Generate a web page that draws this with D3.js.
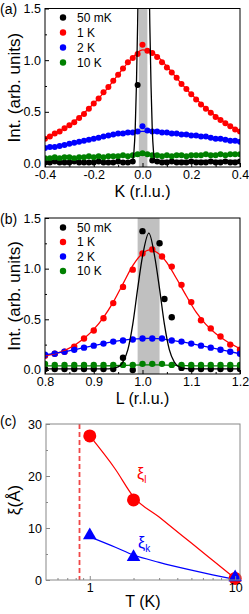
<!DOCTYPE html>
<html>
<head>
<meta charset="utf-8">
<script src="https://cdn.jsdelivr.net/npm/d3@7"></script>
<style>
  body { margin: 0; background: #fff; }
  svg { display: block; font-family: "Liberation Sans", Arial, sans-serif; }
</style>
</head>
<body>
<div id="chart"></div>
<script>
// ---- data ----
const seriesNames = ['50 mK', '1 K', '2 K', '10 K'];
const seriesColors = ['#000000', '#ff0000', '#0000ff', '#008000'];

// (a) K scans
const kGrid = [-0.40, -0.38, -0.36, -0.34, -0.32, -0.30, -0.28, -0.26, -0.24, -0.22, -0.20,
  -0.18, -0.16, -0.14, -0.12, -0.10, -0.08, -0.06, -0.04, -0.02, 0.00,
  0.02, 0.04, 0.06, 0.08, 0.10, 0.12, 0.14, 0.16, 0.18, 0.20,
  0.22, 0.24, 0.26, 0.28, 0.30, 0.32, 0.34, 0.36, 0.38, 0.40];
const kBlack = [0.01, 0.01, 0.02, 0.01, 0.01, 0.01, 0.02, 0.01, 0.01, 0.01, 0.01,
  0.02, 0.01, 0.01, 0.01, 0.02, 0.01, 0.01, 0.02, 0.76, null,
  null, 0.03, 0.02, 0.01, 0.01, 0.02, 0.01, 0.01, 0.01, 0.02,
  0.01, 0.01, 0.01, 0.02, 0.01, 0.01, 0.02, 0.01, 0.01, 0.02];
const kRed = [0.24, 0.26, 0.29, 0.31, 0.34, 0.37, 0.40, 0.44, 0.48, 0.53, 0.58,
  0.63, 0.69, 0.74, 0.80, 0.86, 0.92, 0.98, 1.02, 1.06, 1.15,
  1.09, 1.07, 1.03, 0.98, 0.93, 0.88, 0.83, 0.77, 0.72, 0.67,
  0.62, 0.57, 0.53, 0.49, 0.45, 0.42, 0.39, 0.36, 0.33, 0.31];
const kBlue = [0.15, 0.16, 0.16, 0.17, 0.18, 0.19, 0.20, 0.21, 0.22, 0.23, 0.24,
  0.25, 0.26, 0.27, 0.28, 0.29, 0.29, 0.30, 0.30, 0.31, 0.36,
  0.32, 0.31, 0.31, 0.30, 0.30, 0.29, 0.29, 0.28, 0.28, 0.27,
  0.27, 0.26, 0.26, 0.25, 0.24, 0.24, 0.23, 0.22, 0.22, 0.21];
const kGreen = [0.05, 0.05, 0.06, 0.05, 0.06, 0.06, 0.05, 0.06, 0.06, 0.07, 0.06,
  0.07, 0.06, 0.07, 0.07, 0.07, 0.08, 0.07, 0.08, 0.09, 0.10,
  0.09, 0.08, 0.08, 0.07, 0.08, 0.07, 0.08, 0.08, 0.07, 0.08,
  0.08, 0.08, 0.09, 0.08, 0.08, 0.09, 0.08, 0.09, 0.09, 0.09];
const kFitBlackX = [-0.40, -0.05, -0.04, -0.035, -0.03, -0.025, -0.02, -0.015, 0.005, 0.025, 0.03, 0.035, 0.04, 0.045, 0.05, 0.06, 0.40];
const kFitBlackY = [0.02, 0.02, 0.04, 0.12, 0.33, 0.75, 1.35, 2.1, 3.0, 2.1, 1.35, 0.75, 0.33, 0.12, 0.04, 0.03, 0.03];
const kFitX = [-0.40, -0.30, -0.20, -0.15, -0.10, -0.05, 0.00, 0.05, 0.10, 0.15, 0.20, 0.30, 0.40];
const kFitRed = [0.24, 0.37, 0.58, 0.71, 0.86, 1.00, 1.10, 1.06, 0.94, 0.80, 0.67, 0.46, 0.31];
const kFitBlue = [0.15, 0.19, 0.24, 0.265, 0.285, 0.30, 0.31, 0.305, 0.30, 0.285, 0.27, 0.245, 0.21];
const kFitGreen = [0.05, 0.055, 0.06, 0.065, 0.07, 0.075, 0.08, 0.078, 0.076, 0.078, 0.08, 0.085, 0.09];
const kBand = [-0.015, 0.02];

// (b) L scans
const lGrid = [0.80, 0.82, 0.84, 0.86, 0.88, 0.90, 0.92, 0.94, 0.96, 0.98, 1.00,
  1.02, 1.04, 1.06, 1.08, 1.10, 1.12, 1.14, 1.16, 1.18, 1.20];
const lRed = [0.14, 0.16, 0.18, 0.23, 0.31, 0.39, 0.51, 0.66, 0.82, 0.99, 1.15,
  1.19, 1.12, 1.02, 0.84, 0.67, 0.49, 0.41, 0.33, 0.25, 0.20];
const lBlue = [0.15, 0.16, 0.18, 0.20, 0.22, 0.24, 0.26, 0.28, 0.29, 0.30, 0.31,
  0.31, 0.31, 0.29, 0.28, 0.26, 0.24, 0.22, 0.20, 0.18, 0.16];
const lGreen = [0.06, 0.05, 0.05, 0.05, 0.05, 0.05, 0.05, 0.05, 0.05, 0.05, 0.06,
  0.06, 0.06, 0.05, 0.05, 0.05, 0.05, 0.05, 0.05, 0.05, 0.05];
const lBlackX = [0.80, 0.82, 0.84, 0.86, 0.88, 0.90, 0.92, 0.94, 0.96, 0.98, 1.00,
  1.035, 1.045, 1.06, 1.08, 1.10, 1.12, 1.14, 1.16, 1.18, 1.20];
const lBlack = [0.01, 0.01, 0.01, 0.01, 0.01, 0.01, 0.01, 0.01, 0.12, 0.00, 1.37,
  1.25, 0.70, 0.52, 0.02, 0.01, 0.01, 0.01, 0.01, 0.01, 0.01];
const lFitBlackX = [0.80, 0.93, 0.95, 0.96, 0.97, 0.98, 0.99, 1.00, 1.013, 1.025, 1.035, 1.045, 1.055, 1.065, 1.075, 1.095, 1.20];
const lFitBlack = [0.01, 0.01, 0.03, 0.08, 0.20, 0.45, 0.80, 1.12, 1.35, 1.12, 0.80, 0.45, 0.20, 0.08, 0.03, 0.01, 0.01];
const lFitX = [0.80, 0.84, 0.88, 0.90, 0.92, 0.94, 0.96, 0.98, 1.00, 1.015, 1.03, 1.05, 1.07, 1.09, 1.11, 1.13, 1.15, 1.17, 1.20];
const lFitRed = [0.14, 0.19, 0.31, 0.40, 0.52, 0.67, 0.85, 1.03, 1.15, 1.185, 1.16, 1.06, 0.90, 0.73, 0.57, 0.45, 0.36, 0.29, 0.21];
const lFitBlue = [0.15, 0.18, 0.22, 0.24, 0.26, 0.28, 0.295, 0.305, 0.31, 0.312, 0.31, 0.30, 0.285, 0.27, 0.25, 0.23, 0.21, 0.19, 0.16];
const lFitGreen = [0.04, 0.04, 0.04, 0.04, 0.04, 0.042, 0.045, 0.048, 0.05, 0.05, 0.05, 0.048, 0.045, 0.042, 0.04, 0.04, 0.04, 0.04, 0.04];
const lBand = [0.99, 1.035];

// (c) correlation lengths
const tPts = [1, 2, 10];
const xiL = [27.7, 15.4, 0.3];
const xiK = [8.6, 4.4, 0.5];
const tFit = [1, 1.5, 2, 3, 5, 7, 10];
const xiLFit = [27.7, 21.3, 16.0, 12.1, 7.1, 3.8, 0.3];
const xiKFit = [8.3, 6.3, 4.8, 3.4, 1.9, 1.0, 0.1];
const tNeel = 0.85;

// ---- drawing ----
const W = 249, H = 614;
const svg = d3.select('#chart').append('svg').attr('width', W).attr('height', H);

const FONT_TICK = 12.5, FONT_TITLE = 16, FONT_PANEL = 14;

function clipFor(id, x, y) {
  const [x0, x1] = x.range(), [y0, y1] = y.range();
  svg.append('clipPath').attr('id', id).append('rect')
    .attr('x', x0).attr('y', y1).attr('width', x1 - x0).attr('height', y0 - y1);
  return svg.append('g').attr('clip-path', `url(#${id})`);
}

function dots(g, xs, ys, x, y, color, r) {
  g.append('g').selectAll('circle')
    .data(d3.zip(xs, ys).filter(d => d[1] != null))
    .join('circle')
    .attr('cx', d => x(d[0])).attr('cy', d => y(d[1]))
    .attr('r', r).attr('fill', color);
}

function fitLine(g, xs, ys, x, y, color, w) {
  g.append('path').datum(d3.zip(xs, ys))
    .attr('d', d3.line().x(d => x(d[0])).y(d => y(d[1])).curve(d3.curveMonotoneX))
    .attr('fill', 'none').attr('stroke', color).attr('stroke-width', w || 1.3);
}

function styleAxis(gg, size) {
  gg.attr('font-size', size).attr('font-family', null);
  gg.select('.domain').remove();
  gg.selectAll('.tick text').attr('fill', '#000');
}

function axes(x, y, o) {
  const [y0] = y.range(), [x0] = x.range();
  svg.append('g').attr('transform', `translate(0,${y0})`)
    .call(d3.axisBottom(x).tickValues(o.xMinor).tickSize(-2).tickFormat(''))
    .call(gg => styleAxis(gg, FONT_TICK)).selectAll('line').attr('stroke', o.frame);
  svg.append('g').attr('transform', `translate(0,${y0})`)
    .call(d3.axisBottom(x).tickValues(o.xMajor).tickSize(-4).tickPadding(3).tickFormat(o.xFmt))
    .call(gg => styleAxis(gg, FONT_TICK)).selectAll('line').attr('stroke', o.frame);
  svg.append('g').attr('transform', `translate(${x0},0)`)
    .call(d3.axisLeft(y).tickValues(o.yMinor).tickSize(-2).tickFormat(''))
    .call(gg => styleAxis(gg, FONT_TICK)).selectAll('line').attr('stroke', o.frame);
  svg.append('g').attr('transform', `translate(${x0},0)`)
    .call(d3.axisLeft(y).tickValues(o.yMajor).tickSize(-4).tickPadding(4).tickFormat(o.yFmt))
    .call(gg => styleAxis(gg, FONT_TICK)).selectAll('line').attr('stroke', o.frame);
  const [xa, xb] = x.range(), [ya, yb] = y.range();
  svg.append('rect').attr('x', xa).attr('y', yb).attr('width', xb - xa).attr('height', ya - yb)
    .attr('fill', 'none').attr('stroke', o.frame).attr('stroke-width', 1);
}

const TITLE_GAP = 30;
function titles(x, y, xt, yt, panel, panelY, yCenter) {
  const [xa, xb] = x.range(), [ya] = y.range();
  svg.append('text').attr('x', (xa + xb) / 2).attr('y', ya + TITLE_GAP)
    .attr('text-anchor', 'middle').attr('font-size', FONT_TITLE).text(xt);
  svg.append('text').attr('transform', `translate(20,${yCenter}) rotate(-90)`)
    .attr('text-anchor', 'middle').attr('font-size', 17).text(yt);
  svg.append('text').attr('x', 0).attr('y', panelY).attr('font-size', FONT_PANEL).text(panel);
}

function legend(x0, y0, dy) {
  seriesNames.forEach((name, i) => {
    svg.append('circle').attr('cx', x0).attr('cy', y0 + i * dy).attr('r', 3.2).attr('fill', seriesColors[i]);
    svg.append('text').attr('x', x0 + 14).attr('y', y0 + i * dy).attr('dy', '0.36em')
      .attr('font-size', 12).text(name);
  });
}

const fmt1 = d => d.toFixed(1);

// ---- panel (a) ----
{
  const x = d3.scaleLinear().domain([-0.4, 0.4]).range([45, 240]);
  const y = d3.scaleLinear().domain([-0.034, 1.5]).range([167, 8.5]);
  const g = clipFor('clipA', x, y);
  g.append('rect').attr('x', x(kBand[0])).attr('y', y(1.5))
    .attr('width', x(kBand[1]) - x(kBand[0])).attr('height', y(-0.034) - y(1.5)).attr('fill', '#c0c0c0');
  dots(g, kGrid, kBlack, x, y, seriesColors[0], 3);
  dots(g, kGrid, kRed, x, y, seriesColors[1], 3);
  dots(g, kGrid, kBlue, x, y, seriesColors[2], 3);
  dots(g, kGrid, kGreen, x, y, seriesColors[3], 3);
  fitLine(g, kFitX, kFitRed, x, y, seriesColors[1]);
  fitLine(g, kFitX, kFitBlue, x, y, seriesColors[2]);
  fitLine(g, kFitX, kFitGreen, x, y, seriesColors[3]);
  fitLine(g, kFitBlackX, kFitBlackY, x, y, seriesColors[0]);
  axes(x, y, {
    xMajor: [-0.4, -0.2, 0, 0.2, 0.4], xMinor: [-0.3, -0.1, 0.1, 0.3], xFmt: fmt1,
    yMajor: [0, 0.5, 1, 1.5], yMinor: [0.25, 0.75, 1.25], yFmt: fmt1, frame: '#000'
  });
  titles(x, y, 'K (r.l.u.)', 'Int. (arb. units)', '(a)', 14, (167 + 8.5) / 2);
  legend(63, 17.5, 15);
}

// ---- panel (b) ----
{
  const x = d3.scaleLinear().domain([0.8, 1.2]).range([45, 240]);
  const y = d3.scaleLinear().domain([-0.04, 1.5]).range([374, 218]);
  const g = clipFor('clipB', x, y);
  g.append('rect').attr('x', x(lBand[0])).attr('y', y(1.5))
    .attr('width', x(lBand[1]) - x(lBand[0])).attr('height', y(-0.04) - y(1.5)).attr('fill', '#c0c0c0');
  dots(g, lBlackX, lBlack, x, y, seriesColors[0], 3.2);
  dots(g, lGrid, lRed, x, y, seriesColors[1], 3.2);
  dots(g, lGrid, lBlue, x, y, seriesColors[2], 3.2);
  dots(g, lGrid, lGreen, x, y, seriesColors[3], 3.2);
  fitLine(g, lFitX, lFitRed, x, y, seriesColors[1]);
  fitLine(g, lFitX, lFitBlue, x, y, seriesColors[2]);
  fitLine(g, lFitX, lFitGreen, x, y, seriesColors[3]);
  fitLine(g, lFitBlackX, lFitBlack, x, y, seriesColors[0]);
  axes(x, y, {
    xMajor: [0.8, 0.9, 1.0, 1.1, 1.2], xMinor: [0.85, 0.95, 1.05, 1.15], xFmt: fmt1,
    yMajor: [0, 0.5, 1, 1.5], yMinor: [0.25, 0.75, 1.25], yFmt: fmt1, frame: '#000'
  });
  titles(x, y, 'L (r.l.u.)', 'Int. (arb. units)', '(b)', 224, (374 + 218) / 2);
  legend(63, 227.5, 14.5);
}

// ---- panel (c) ----
{
  const x = d3.scaleLog().domain([0.5, 10.8]).range([46, 240]);
  const y = d3.scaleLinear().domain([0, 30]).range([580, 424]);
  const g = clipFor('clipC', x, y);
  g.append('line').attr('x1', x(tNeel)).attr('x2', x(tNeel)).attr('y1', y(30)).attr('y2', y(0))
    .attr('stroke', '#f04848').attr('stroke-width', 1.8).attr('stroke-dasharray', '5 3');
  fitLine(svg, tFit, xiLFit, x, y, '#ff0000', 1.2);
  fitLine(svg, tFit, xiKFit, x, y, '#0000ff', 1.2);
  svg.append('g').selectAll('circle').data(d3.zip(tPts, xiL)).join('circle')
    .attr('cx', d => x(d[0])).attr('cy', d => y(d[1])).attr('r', 6.5).attr('fill', '#ff0000');
  svg.append('g').selectAll('path').data(d3.zip(tPts, xiK)).join('path')
    .attr('transform', d => `translate(${x(d[0])},${y(d[1])})`)
    .attr('d', d3.symbol(d3.symbolTriangle, 80)).attr('fill', '#0000ff');
  axes(x, y, {
    xMajor: [1, 10], xMinor: [0.6, 0.7, 0.8, 0.9, 2, 3, 4, 5, 6, 7, 8, 9], xFmt: d => String(d),
    yMajor: [0, 10, 20, 30], yMinor: [5, 15, 25], yFmt: d => String(d), frame: '#888'
  });
  svg.append('text').attr('x', 143).attr('y', 607).attr('text-anchor', 'middle')
    .attr('font-size', FONT_TITLE).text('T (K)');
  svg.append('text').attr('transform', 'translate(20,500) rotate(-90)')
    .attr('text-anchor', 'middle').attr('font-size', 17).text('ξ(Å)');
  svg.append('text').attr('x', 0).attr('y', 426).attr('font-size', FONT_PANEL).text('(c)');
  const lab = (tx, ty, color, sub) => {
    const t = svg.append('text').attr('x', tx).attr('y', ty).attr('fill', color).attr('font-size', 16);
    t.append('tspan').text('ξ');
    t.append('tspan').attr('font-size', 10).attr('dy', 4).text(sub);
  };
  lab(137, 479, '#ff0000', 'l');
  lab(138, 548, '#0000ff', 'k');
}
</script>
</body>
</html>
